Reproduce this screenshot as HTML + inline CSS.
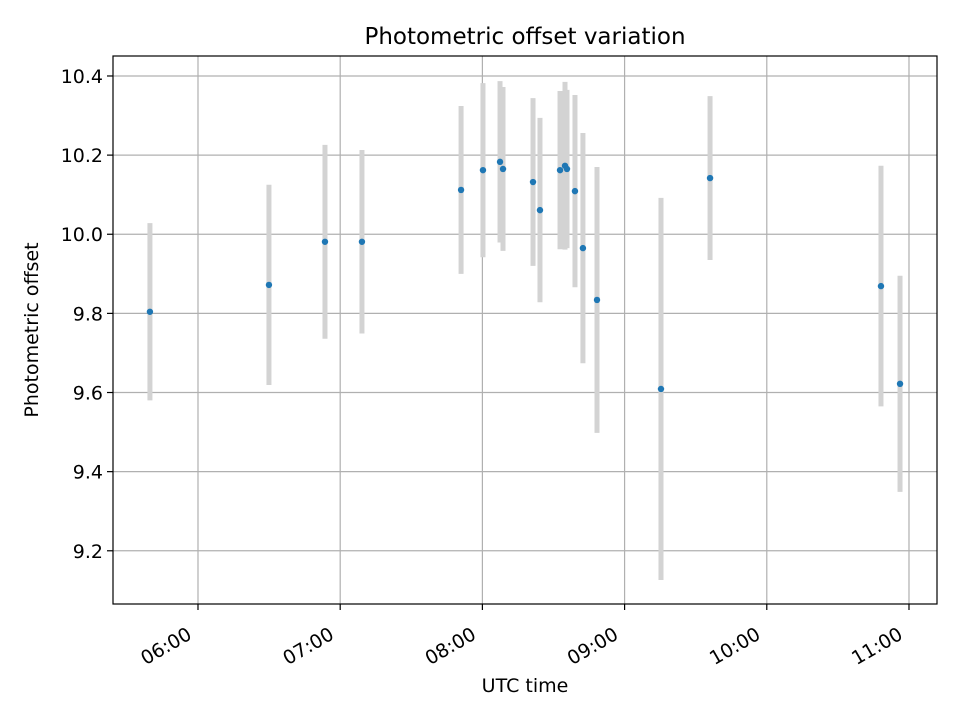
<!DOCTYPE html>
<html><head><meta charset="utf-8"><style>body{margin:0;background:#fff}svg{display:block;font-family:"DejaVu Sans","Liberation Sans",sans-serif}</style></head>
<body>
<svg id="chart" width="960" height="720" xmlns="http://www.w3.org/2000/svg">
<rect width="960" height="720" fill="#fff"/>
<text x="525" y="44" font-size="23" text-anchor="middle">Photometric offset variation</text>
<g id="grid"></g><g id="bars"></g><g id="pts"></g><g id="ticks"></g>
<rect x="113" y="56" width="824" height="548" fill="none" stroke="#000" stroke-width="1.2"/>
<text x="525" y="692" font-size="19" text-anchor="middle">UTC time</text>
<text transform="translate(38,330) rotate(-90)" font-size="19" text-anchor="middle">Photometric offset</text>
</svg>
<script>
const timesH=[5.662,6.499,6.893,7.153,7.850,8.004,8.124,8.145,8.356,8.405,8.546,8.581,8.595,8.651,8.707,8.806,9.256,9.601,10.803,10.937];
const values=[9.804,9.872,9.981,9.981,10.112,10.162,10.183,10.165,10.132,10.061,10.162,10.173,10.165,10.109,9.965,9.834,9.609,10.142,9.869,9.622];
const errors=[0.224,0.253,0.245,0.232,0.212,0.22,0.204,0.207,0.212,0.233,0.2,0.212,0.2,0.243,0.291,0.336,0.483,0.207,0.304,0.273];
const xTicks=[6,7,8,9,10,11];
const xTickLabels=["06:00","07:00","08:00","09:00","10:00","11:00"];
const yTicks=[9.2,9.4,9.6,9.8,10.0,10.2,10.4];
const yTickLabels=["9.2","9.4","9.6","9.8","10.0","10.2","10.4"];
const X0=113,X1=937,Y0=56,Y1=604,xmin=5.4023,xmax=11.197,ymin=9.0655,ymax=10.4505;
const sx=v=>X0+(v-xmin)/(xmax-xmin)*(X1-X0);
const sy=v=>Y1-(v-ymin)/(ymax-ymin)*(Y1-Y0);
const NS="http://www.w3.org/2000/svg";
function mk(p,t,a){const e=document.createElementNS(NS,t);for(const k in a)e.setAttribute(k,a[k]);document.getElementById(p).appendChild(e);return e;}
xTicks.forEach((t,i)=>{const x=sx(t);
 let g=mk('grid','line',{x1:x,x2:x,y1:Y0,y2:Y1,stroke:'#b0b0b0','stroke-width':1.2});
 
 let k=mk('ticks','line',{x1:x,x2:x,y1:Y1,y2:Y1+6,stroke:'#000','stroke-width':1.2});
 
 let l=mk('ticks','text',{x:0,y:0,'font-size':19,'text-anchor':'end',transform:`translate(${x-5},${Y1+34}) rotate(-30)`});
 l.textContent=xTickLabels[i];
 
});
yTicks.forEach((t,i)=>{const y=sy(t);
 let g=mk('grid','line',{x1:X0,x2:X1,y1:y,y2:y,stroke:'#b0b0b0','stroke-width':1.2});
 
 let k=mk('ticks','line',{x1:X0-6,x2:X0,y1:y,y2:y,stroke:'#000','stroke-width':1.2});
 
 let l=mk('ticks','text',{x:X0-10,y:y+7,'font-size':19,'text-anchor':'end'});
 l.textContent=yTickLabels[i];
 
});
timesH.forEach((t,i)=>{const x=sx(t);
 let b=mk('bars','line',{x1:x,x2:x,y1:sy(values[i]+errors[i]),y2:sy(values[i]-errors[i]),stroke:'#d3d3d3','stroke-width':5});
 
 let c=mk('pts','circle',{cx:x,cy:sy(values[i]),r:3.2,fill:'#1f77b4'});
 
});
</script>
</body></html>
